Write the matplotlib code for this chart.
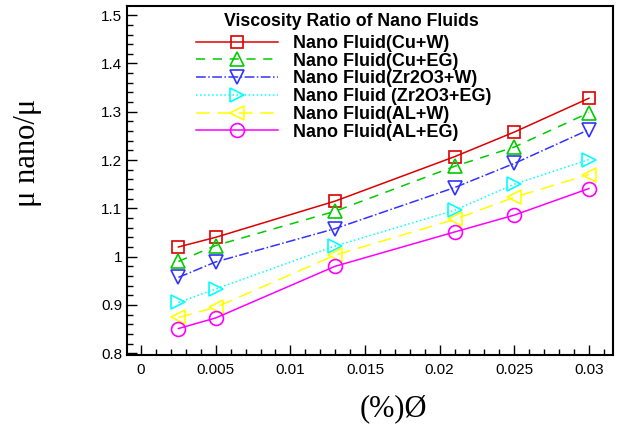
import matplotlib.pyplot as plt
from matplotlib.ticker import MultipleLocator

# volume fraction
phi = [0.0025, 0.005, 0.013, 0.021, 0.025, 0.03]

cu_w = [1.020, 1.040, 1.115, 1.207, 1.258, 1.328]
cu_eg = [0.990, 1.023, 1.094, 1.187, 1.227, 1.298]
zr_w = [0.957, 0.989, 1.058, 1.143, 1.193, 1.263]
zr_eg = [0.905, 0.933, 1.022, 1.096, 1.150, 1.201]
al_w = [0.874, 0.895, 1.003, 1.077, 1.123, 1.170]
al_eg = [0.851, 0.873, 0.980, 1.051, 1.086, 1.141]

labels = ["Nano Fluid(Cu+W)", "Nano Fluid(Cu+EG)", "Nano Fluid(Zr2O3+W)",
          "Nano Fluid (Zr2O3+EG)", "Nano Fluid(AL+W)", "Nano Fluid(AL+EG)"]

plt.rcParams['font.family'] = ['Liberation Sans', 'DejaVu Sans']

fig = plt.figure(figsize=(6.19, 4.32), dpi=100)
ax = fig.add_axes([0.205, 0.178, 0.785, 0.808])

styles = [
    (cu_w, '#dd0000', '-', 's'),
    (cu_eg, '#00cc00', (0, (6, 5)), '^'),
    (zr_w, '#3333ff', '-.', 'v'),
    (zr_eg, '#00ffff', ':', '>'),
    (al_w, '#ffff00', (0, (9, 5)), '<'),
    (al_eg, '#ff00ff', '-', 'o'),
]
for (vals, c, ls, m), lab in zip(styles, labels):
    ax.plot(phi, vals, color=c, linestyle=ls, linewidth=1.1, marker=m,
            markersize=10 if m != 's' else 9, markerfacecolor='none',
            markeredgecolor=c, markeredgewidth=1.2, label=lab)

ax.set_xlim(-0.00095, 0.0316)
ax.set_ylim(0.796, 1.519)
ax.xaxis.set_minor_locator(MultipleLocator(0.001))
ax.yaxis.set_minor_locator(MultipleLocator(0.02))
ax.set_xticks([0, 0.005, 0.01, 0.015, 0.02, 0.025, 0.03])
ax.set_xticklabels(['0', '0.005', '0.01', '0.015', '0.02', '0.025', '0.03'])
ax.set_yticks([0.8, 0.9, 1.0, 1.1, 1.2, 1.3, 1.4, 1.5])
ax.set_yticklabels(['0.8', '0.9', '1', '1.1', '1.2', '1.3', '1.4', '1.5'])
ax.tick_params(which='both', direction='in', labelsize=11, width=1)
ax.tick_params(which='major', length=7)
ax.tick_params(which='minor', length=4)
ax.tick_params(axis='x', pad=6)
for s in ax.spines.values():
    s.set_linewidth(1.5)

ax.set_xlabel("(%)Ø", family='Liberation Serif', fontsize=22)
ax.xaxis.set_label_coords(0.549, -0.112)
ax.set_ylabel("μ nano/μ", family='Liberation Serif', fontsize=22)
ax.yaxis.set_label_coords(-0.175, 0.58)

# legend title drawn on its own so the gap below it can be set
ax.text(0.463, 0.957, "Viscosity Ratio of Nano Fluids", transform=ax.transAxes,
        ha='center', va='center', fontsize=12.8, fontweight='bold')
ax.legend(loc='upper left', bbox_to_anchor=(0.142, 0.917), frameon=False,
          prop={'weight': 'bold', 'size': 13},
          handlelength=4.55, labelspacing=0.04, handletextpad=0.83,
          borderaxespad=0, borderpad=0)

fig.savefig("out.png", dpi=100)
